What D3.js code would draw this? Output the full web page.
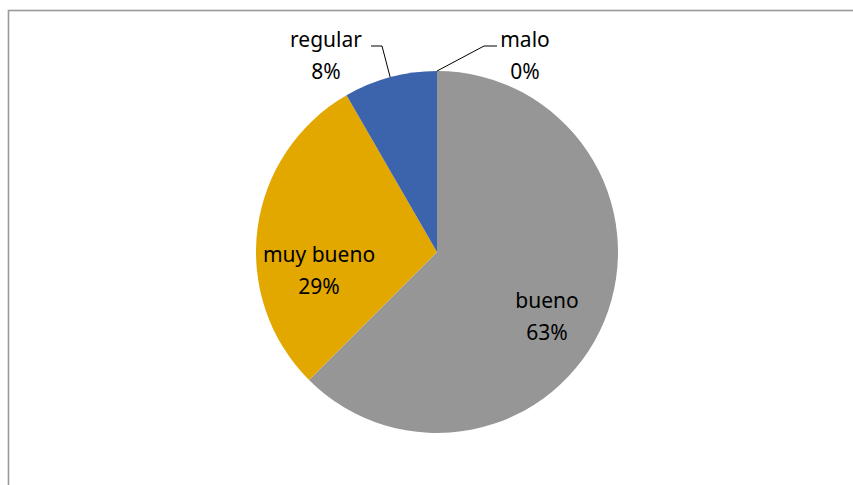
<!DOCTYPE html>
<html>
<head>
<meta charset="utf-8">
<script src="https://cdn.jsdelivr.net/npm/d3@7"></script>
<style>
  body { margin: 0; background: #fff; }
  text { font-family: "Noto Sans", sans-serif; font-size: 21px; fill: #000; }
</style>
</head>
<body>
<div id="container"></div>
<script>
/* CONSTANTS AND GLOBALS */
const width = 853,
  height = 485,
  cx = 437,
  cy = 252,
  radius = 181;

/* DATA */
const categories = ["bueno", "muy bueno", "regular", "malo"];
const counts = [15, 7, 2, 0];
const colors = ["#969696", "#e2a800", "#3c64ac", "#5a7fc0"];

// label placement (offsets from pie centre), outside labels get a leader
const labelDx = [110, -118, -111, 88];
const labelDy = [56, 10, -205, -205];
const outside = [false, false, true, true];

const data = categories.map((c, i) => ({
  name: c,
  value: counts[i],
  color: colors[i],
  dx: labelDx[i],
  dy: labelDy[i],
  outside: outside[i]
}));
const total = d3.sum(counts);

// CREATE SVG ELEMENT
const svg = d3.select("#container")
  .append("svg")
  .attr("width", width)
  .attr("height", height);

// chart frame (runs off right/bottom like the original)
svg.append("rect")
  .attr("x", 8.5)
  .attr("y", 10.5)
  .attr("width", width + 20)
  .attr("height", height + 20)
  .attr("fill", "none")
  .attr("stroke", "#9a9a9a")
  .attr("stroke-width", 1.6);

const pie = d3.pie()
  .sort(null)
  .value(d => d.value);

const arcGen = d3.arc()
  .innerRadius(0)
  .outerRadius(radius);

const arcs = pie(data);

const g = svg.append("g")
  .attr("transform", `translate(${cx},${cy})`);

// DRAW SLICES
g.selectAll(".slice")
  .data(arcs)
  .join("path")
  .attr("class", "slice")
  .attr("d", arcGen)
  .attr("fill", d => d.data.color);

// LEADER LINES for outside labels
g.selectAll(".leader")
  .data(arcs.filter(d => d.data.outside))
  .join("polyline")
  .attr("class", "leader")
  .attr("fill", "none")
  .attr("stroke", "#000")
  .attr("stroke-width", 1)
  .attr("points", d => {
    const a = (d.startAngle + d.endAngle) / 2;
    const px = Math.sin(a) * radius, py = -Math.cos(a) * radius;
    const ly = d.data.dy - 1;
    // horizontal stub sits next to the first text line
    const left = d.data.dx < 0;
    const sx = left ? d.data.dx + 45 : d.data.dx - 28;
    const ex = left ? sx + 11 : sx - 13;
    return [[sx, ly], [ex, ly], [px, py]].map(p => p.join(",")).join(" ");
  });

// DATA LABELS
const labels = g.selectAll(".label")
  .data(arcs)
  .join("text")
  .attr("class", "label")
  .attr("text-anchor", "middle")
  .attr("transform", d => `translate(${d.data.dx},${d.data.dy})`);

labels.append("tspan")
  .attr("x", 0)
  .attr("y", 0)
  .text(d => d.data.name);

labels.append("tspan")
  .attr("x", 0)
  .attr("y", 32)
  .text(d => Math.round(d.data.value / total * 100) + "%");
</script>
</body>
</html>
